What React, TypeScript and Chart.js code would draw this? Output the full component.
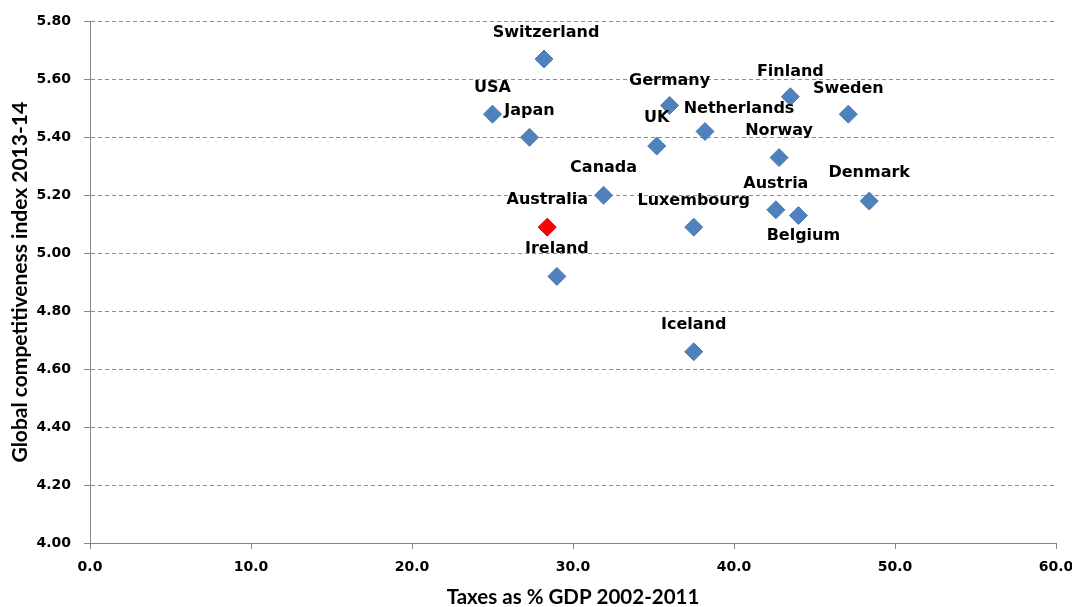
import React, { useEffect, useRef } from "react";
import { Chart, registerables } from "chart.js";

Chart.register(...registerables);

const countries = [
  "Switzerland", "USA", "Japan", "Germany", "Finland", "Sweden", "Netherlands",
  "UK", "Norway", "Canada", "Denmark", "Austria", "Belgium", "Luxembourg",
  "Australia", "Ireland", "Iceland",
];
const taxesPctGdp = [28.2, 25.0, 27.3, 36.0, 43.5, 47.1, 38.2, 35.2, 42.8, 31.9, 48.4, 42.6, 44.0, 37.5, 28.4, 29.0, 37.5];
const competitivenessIndex = [5.67, 5.48, 5.40, 5.51, 5.54, 5.48, 5.42, 5.37, 5.33, 5.20, 5.18, 5.15, 5.13, 5.09, 5.09, 4.92, 4.66];

const xTitle = "Taxes as % GDP 2002-2011";
const yTitle = "Global competitiveness index 2013-14";
const highlighted = "Australia";

// label placement (pixels relative to the marker)
const defaultLabelOffset = { dx: 0, dy: -26 };
const labelOffsets: Record<string, { dx: number; dy: number }> = {
  Switzerland: { dx: 2, dy: -26 },
  Germany: { dx: 0, dy: -25 },
  Finland: { dx: 0, dy: -25 },
  Sweden: { dx: 0, dy: -25 },
  Netherlands: { dx: 34, dy: -23 },
  UK: { dx: 0, dy: -28 },
  Norway: { dx: 0, dy: -27 },
  Canada: { dx: 0, dy: -27 },
  Denmark: { dx: 0, dy: -28 },
  Belgium: { dx: 5, dy: 20 },
  Australia: { dx: 0, dy: -27 },
  Ireland: { dx: 0, dy: -28 },
  Iceland: { dx: 0, dy: -27 },
};

const labelPlugin = {
  id: "pointLabels",
  afterDatasetsDraw(chart: any) {
    const { ctx } = chart;
    const meta = chart.getDatasetMeta(0);
    ctx.save();
    ctx.font = "bold 16px 'DejaVu Sans'";
    ctx.fillStyle = "#000000";
    ctx.textAlign = "center";
    ctx.textBaseline = "middle";
    meta.data.forEach((pt: any, i: number) => {
      const name = countries[i];
      const off = labelOffsets[name] || defaultLabelOffset;
      ctx.fillText(name, pt.x + off.dx, pt.y + off.dy);
    });
    ctx.restore();
  },
};

export default function App() {
  const canvasRef = useRef<HTMLCanvasElement | null>(null);

  useEffect(() => {
    document.body.style.margin = "0";
    const canvas = canvasRef.current;
    if (!canvas) return;
    const points = countries.map((_, i) => ({ x: taxesPctGdp[i], y: competitivenessIndex[i] }));
    const colors = countries.map((c) => (c === highlighted ? "#FF0000" : "#4F81BD"));
    const borders = countries.map((c) => (c === highlighted ? "#E00000" : "#4A7AB5"));
    const tickFont = { family: "'DejaVu Sans'", size: 14, weight: "bold" as const };
    const chart = new Chart(canvas, {
      type: "scatter",
      data: {
        datasets: [
          {
            data: points,
            pointStyle: "rectRot",
            pointRadius: 9,
            pointHoverRadius: 9,
            pointBackgroundColor: colors,
            pointBorderColor: borders,
            pointBorderWidth: 1,
          },
        ],
      },
      options: {
        animation: false,
        responsive: true,
        maintainAspectRatio: false,
        layout: { padding: { top: 20, right: 16, left: 0, bottom: 0 } },
        plugins: {
          legend: { display: false },
          tooltip: { enabled: false },
        },
        scales: {
          x: {
            type: "linear",
            min: 0,
            max: 60,
            ticks: {
              stepSize: 10,
              callback: (v: any) => Number(v).toFixed(1),
              font: tickFont,
              color: "#000000",
              padding: 10,
              maxRotation: 0,
            },
            grid: {
              drawOnChartArea: false,
              drawTicks: true,
              tickLength: 6,
              color: "#868686",
            },
            border: { display: true, color: "#868686", width: 1 },
            title: {
              display: true,
              text: xTitle,
              font: { family: "Lato", size: 20.5, weight: "bold" as const, lineHeight: 1.2 },
              color: "#000000",
              padding: { top: 0, bottom: -3 },
            },
            afterFit: (scale: any) => {
              scale.height = 64;
              scale.paddingRight = 0;
              scale.paddingLeft = 0;
            },
          },
          y: {
            type: "linear",
            min: 4,
            max: 5.8,
            ticks: {
              stepSize: 0.2,
              callback: (v: any) => Number(v).toFixed(2),
              font: tickFont,
              color: "#000000",
              padding: 13,
            },
            grid: {
              drawOnChartArea: true,
              drawTicks: true,
              tickLength: 6,
              color: "#8C8C8C",
              tickColor: "#868686",
              tickBorderDash: [],
              lineWidth: 1,
            },
            border: { display: true, color: "#868686", width: 1, dash: [4, 3] },
            title: {
              display: true,
              text: yTitle,
              font: { family: "Lato", size: 21, weight: "bold" as const, lineHeight: 1.2 },
              color: "#000000",
              padding: { top: 8, bottom: 0 },
            },
            afterFit: (scale: any) => {
              scale.width = 90;
            },
          },
        },
      },
      plugins: [labelPlugin],
    });
    return () => chart.destroy();
  }, []);

  return (
    <div style={{ position: "relative", width: "1072px", height: "607px" }}>
      <canvas ref={canvasRef} />
    </div>
  );
}
